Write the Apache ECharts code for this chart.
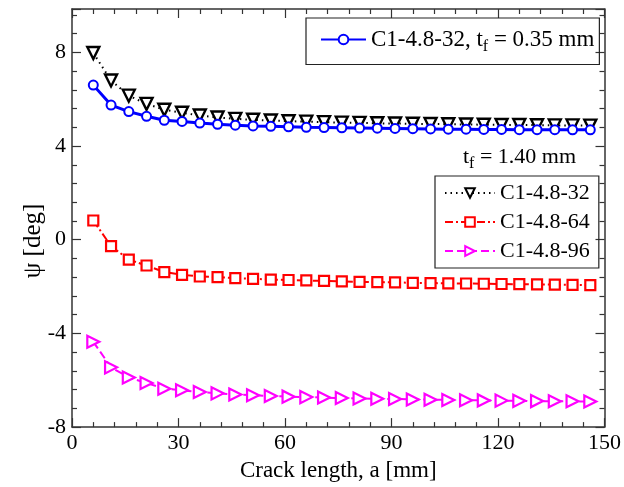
<!DOCTYPE html>
<html><head><meta charset="utf-8">
<script src="https://cdn.jsdelivr.net/npm/echarts@6/dist/echarts.min.js"></script>
<style>html,body{margin:0;padding:0;background:#fff}#c{width:624px;height:487px}</style>
</head><body><div id="c"></div>
<script>
const crackLength = [6, 11, 16, 21, 26, 31, 36, 41, 46, 51, 56, 61, 66, 71, 76, 81, 86, 91, 96, 101, 106, 111, 116, 121, 126, 131, 136, 141, 146];
const c32thin = [6.6, 5.75, 5.47, 5.27, 5.1, 5.05, 4.98, 4.93, 4.89, 4.86, 4.84, 4.82, 4.8, 4.79, 4.78, 4.77, 4.76, 4.75, 4.74, 4.73, 4.72, 4.72, 4.71, 4.71, 4.7, 4.7, 4.7, 4.69, 4.69];
const c32 = [7.97, 6.8, 6.15, 5.8, 5.55, 5.42, 5.3, 5.22, 5.16, 5.12, 5.09, 5.06, 5.04, 5.02, 5.0, 4.99, 4.97, 4.96, 4.95, 4.94, 4.93, 4.92, 4.91, 4.9, 4.9, 4.89, 4.88, 4.88, 4.87];
const c64 = [0.82, -0.27, -0.85, -1.1, -1.38, -1.5, -1.57, -1.6, -1.64, -1.67, -1.7, -1.72, -1.74, -1.76, -1.78, -1.8, -1.81, -1.82, -1.84, -1.85, -1.86, -1.87, -1.88, -1.89, -1.9, -1.91, -1.92, -1.93, -1.94];
const c96 = [-4.36, -5.45, -5.88, -6.12, -6.36, -6.43, -6.5, -6.56, -6.61, -6.64, -6.67, -6.7, -6.72, -6.74, -6.76, -6.78, -6.79, -6.8, -6.82, -6.83, -6.84, -6.85, -6.86, -6.87, -6.88, -6.89, -6.9, -6.9, -6.91];
const xTicks = [0, 30, 60, 90, 120, 150];
const yTicks = [-8, -4, 0, 4, 8];

const FONT = 'Liberation Serif';
const pair = v => crackLength.map((x, i) => [x, v[i]]);
const axisCommon = {
  axisLine: {onZero: false, lineStyle: {color: '#333', width: 1.5}},
  axisTick: {inside: true, length: 9, lineStyle: {color: '#333', width: 1.2}},
  minorTick: {show: true, splitNumber: 5, length: 5, lineStyle: {color: '#333', width: 1.2}},
  splitLine: {show: false}
};
const xBase = Object.assign({type: 'value', min: 0, max: 150, interval: 30}, axisCommon);
const yBase = Object.assign({type: 'value', min: -8, max: 9.85, interval: 4}, axisCommon);

const chart = echarts.init(document.getElementById('c'));
chart.setOption({
  animation: false,
  textStyle: {fontFamily: FONT},
  grid: {left: 72, right: 16, top: 9, bottom: 56},
  xAxis: [
    Object.assign({}, xBase, {position: 'bottom',
      name: 'Crack length, a [mm]', nameLocation: 'middle', nameGap: 29,
      nameTextStyle: {fontFamily: FONT, fontSize: 23, color: '#000'},
      axisLabel: {fontFamily: FONT, fontSize: 22, color: '#000', margin: 5,
        formatter: v => xTicks.includes(v) ? String(v) : ''}}),
    Object.assign({}, xBase, {position: 'top', axisLabel: {show: false}})
  ],
  yAxis: [
    Object.assign({}, yBase, {position: 'left',
      axisLabel: {fontFamily: FONT, fontSize: 22, color: '#000', margin: 6,
        formatter: v => yTicks.includes(v) ? String(v) : ''}}),
    Object.assign({}, yBase, {position: 'right', axisLabel: {show: false}})
  ],
  legend: [
    {
      data: ['C1-4.8-32, tf = 0.35 mm'],
      left: 306, top: 18, orient: 'horizontal',
      padding: [10, 5, 10, 14],
      borderColor: '#222', borderWidth: 1.2,
      itemWidth: 45, itemHeight: 12,
      formatter: () => '{a|C1-4.8-32, t}{b|f}{a| = 0.35 mm}',
      textStyle: {fontFamily: FONT, fontSize: 23, color: '#000',
        rich: {a: {fontFamily: FONT, fontSize: 23, color: '#000', lineHeight: 24},
               b: {fontFamily: FONT, fontSize: 16, color: '#000', padding: [14, 0, 0, 0]}}}
    },
    {
      data: ['C1-4.8-32', 'C1-4.8-64', 'C1-4.8-96'],
      left: 435, top: 176, orient: 'vertical',
      padding: [5, 9, 5, 9], itemGap: 5,
      borderColor: '#222', borderWidth: 1.2,
      itemWidth: 50, itemHeight: 12,
      textStyle: {fontFamily: FONT, fontSize: 22, color: '#000', lineHeight: 24}
    }
  ],
  graphic: [
    {type: 'text', left: 463, top: 146, style: {
      text: '{a|t}{b|f}{a| = 1.40 mm}', fill: '#000',
      rich: {a: {fontFamily: FONT, fontSize: 22, fill: '#000', lineHeight: 24},
             b: {fontFamily: FONT, fontSize: 16, fill: '#000', padding: [14, 0, 0, 0]}}}},
    {type: 'text', x: 33, y: 241, rotation: Math.PI / 2, style: {
      text: 'ψ [deg]', fontFamily: FONT, fontSize: 25, fill: '#000', align: 'center', verticalAlign: 'middle'}}
  ],
  series: [
    {name: 'C1-4.8-32', type: 'line', data: pair(c32), symbol: 'triangle', symbolRotate: 180, symbolSize: 12,
     lineStyle: {color: '#000', width: 2, type: [1.5, 4]},
     itemStyle: {color: '#fff', borderColor: '#000', borderWidth: 2.4}},
    {name: 'C1-4.8-32, tf = 0.35 mm', type: 'line', data: pair(c32thin), symbol: 'circle', symbolSize: 9,
     lineStyle: {color: '#0000ff', width: 3, type: 'solid'},
     itemStyle: {color: '#fff', borderColor: '#0000ff', borderWidth: 2}},
    {name: 'C1-4.8-64', type: 'line', data: pair(c64), symbol: 'rect', symbolSize: 10,
     lineStyle: {color: '#ff0000', width: 2, type: [8, 3, 2, 3]},
     itemStyle: {color: '#fff', borderColor: '#ff0000', borderWidth: 2.2}},
    {name: 'C1-4.8-96', type: 'line', data: pair(c96), symbol: 'triangle', symbolRotate: -90, symbolSize: 12,
     lineStyle: {color: '#ff00ff', width: 2, type: [8, 4]},
     itemStyle: {color: '#fff', borderColor: '#ff00ff', borderWidth: 2.2}}
  ]
});
</script></body></html>
